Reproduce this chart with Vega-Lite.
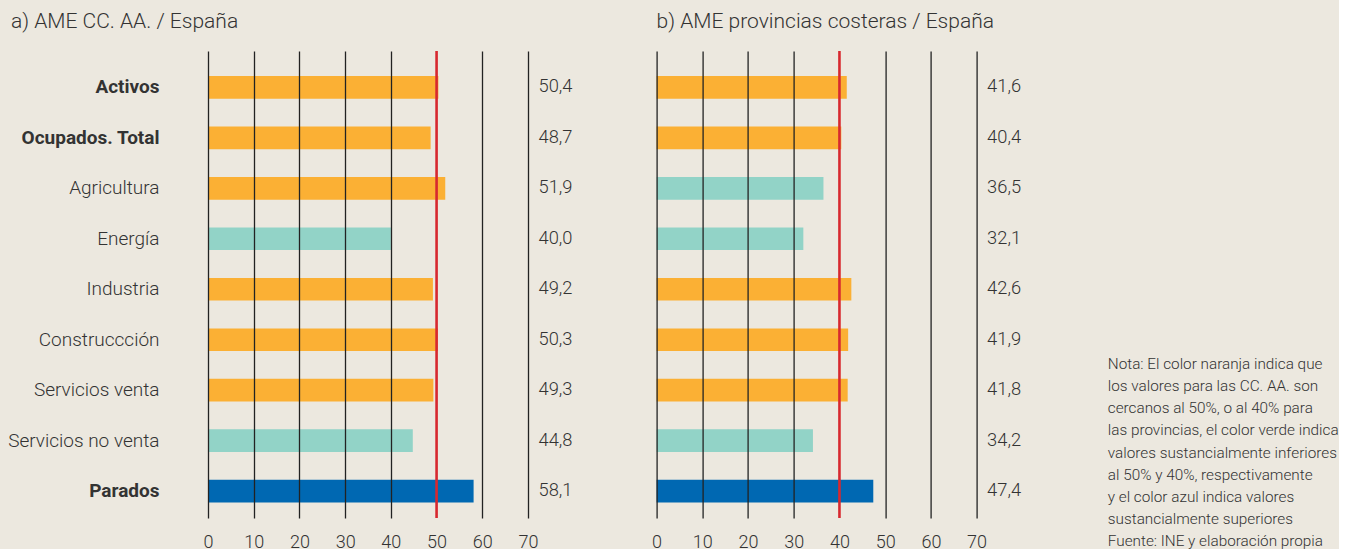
{
  "$schema": "https://vega.github.io/schema/vega-lite/v6.json",
  "background": "#ECE8DF",
  "padding": {"left": 7, "top": 10, "right": 0, "bottom": 0},
  "bounds": "flush",
  "spacing": 128.6,
  "config": {
    "locale": {"number": {"decimal": ",", "thousands": ".", "grouping": [3], "currency": ["", " €"]}},
    "view": {"stroke": null},
    "font": "Roboto",
    "title": {"font": "Roboto", "fontSize": 21, "fontWeight": 300, "color": "#333333", "anchor": "start", "frame": "group", "baseline": "alphabetic", "offset": 18}
  },
  "datasets": {
    "ccaa": [
      {"categoria": "Activos", "valor": 50.4, "nivel": "cercano"},
      {"categoria": "Ocupados. Total", "valor": 48.7, "nivel": "cercano"},
      {"categoria": "Agricultura", "valor": 51.9, "nivel": "cercano"},
      {"categoria": "Energía", "valor": 40.0, "nivel": "inferior"},
      {"categoria": "Industria", "valor": 49.2, "nivel": "cercano"},
      {"categoria": "Construccción", "valor": 50.3, "nivel": "cercano"},
      {"categoria": "Servicios venta", "valor": 49.3, "nivel": "cercano"},
      {"categoria": "Servicios no venta", "valor": 44.8, "nivel": "inferior"},
      {"categoria": "Parados", "valor": 58.1, "nivel": "superior"}
    ],
    "provincias": [
      {"categoria": "Activos", "valor": 41.6, "nivel": "cercano"},
      {"categoria": "Ocupados. Total", "valor": 40.4, "nivel": "cercano"},
      {"categoria": "Agricultura", "valor": 36.5, "nivel": "inferior"},
      {"categoria": "Energía", "valor": 32.1, "nivel": "inferior"},
      {"categoria": "Industria", "valor": 42.6, "nivel": "cercano"},
      {"categoria": "Construccción", "valor": 41.9, "nivel": "cercano"},
      {"categoria": "Servicios venta", "valor": 41.8, "nivel": "cercano"},
      {"categoria": "Servicios no venta", "valor": 34.2, "nivel": "inferior"},
      {"categoria": "Parados", "valor": 47.4, "nivel": "superior"}
    ],
    "nota": [
      {"linea": 1, "texto": "Nota: El color naranja indica que"},
      {"linea": 2, "texto": "los valores para las CC. AA. son"},
      {"linea": 3, "texto": "cercanos al 50%, o al 40% para"},
      {"linea": 4, "texto": "las provincias, el color verde indica"},
      {"linea": 5, "texto": "valores sustancialmente inferiores"},
      {"linea": 6, "texto": "al 50% y 40%, respectivamente"},
      {"linea": 7, "texto": "y el color azul indica valores"},
      {"linea": 8, "texto": "sustancialmente superiores"},
      {"linea": 9, "texto": "Fuente: INE y elaboración propia"}
    ]
  },
  "hconcat": [
    {
      "width": 320,
      "height": 467,
      "title": {"text": "a) AME CC. AA. / España", "dx": -197},
      "layer": [
        {
          "data": {"name": "ccaa"},
          "mark": {"type": "bar"},
          "encoding": {
            "y": {"field": "categoria", "type": "nominal", "sort": null,
              "scale": {"paddingInner": 0.551, "paddingOuter": 0.402, "align": 0.617},
              "axis": {"title": null, "domain": false, "ticks": false, "grid": false, "labelPadding": 49, "labelFontSize": 19, "labelColor": "#333333", "labelFont": "Roboto", "labelLimit": 400,
                "labelFontWeight": {"condition": {"test": "indexof(['Activos','Ocupados. Total','Parados'], datum.value) >= 0", "value": "bold"}, "value": 300}}},
            "x": {"field": "valor", "type": "quantitative", "scale": {"domain": [0, 70], "nice": false, "zero": true},
              "axis": {"title": null, "domain": false, "ticks": false, "values": [0, 10, 20, 30, 40, 50, 60, 70], "grid": true, "gridColor": "#222222", "gridWidth": 1.3,
                "gridOpacity": {"condition": {"test": "datum.value === 50", "value": 0}, "value": 1},
                "labelFlush": false, "labelOverlap": false,
                "labelPadding": 15, "labelFontSize": 18, "labelColor": "#333333", "labelFont": "Roboto", "labelFontWeight": 300, "zindex": 1}},
            "color": {"field": "nivel", "type": "nominal", "scale": {"domain": ["cercano", "inferior", "superior"], "range": ["#FBB034", "#92D3C7", "#0068B2"]}, "legend": null}
          }
        },
        {
          "data": {"name": "ccaa"},
          "mark": {"type": "text", "align": "left", "baseline": "middle", "fontSize": 18.3, "font": "Roboto", "fontWeight": 300, "color": "#333333"},
          "encoding": {
            "y": {"field": "categoria", "type": "nominal", "sort": null},
            "x": {"datum": 72.3},
            "text": {"field": "valor", "type": "quantitative", "format": ".1f"}
          }
        },
        {
          "data": {"values": [{"referencia": 50}]},
          "mark": {"type": "rule", "color": "#D7282F", "strokeWidth": 2.6},
          "encoding": {"x": {"field": "referencia", "type": "quantitative"}}
        }
      ]
    },
    {
      "width": 320,
      "height": 467,
      "title": {"text": "b) AME provincias costeras / España"},
      "resolve": {"scale": {"y": "independent"}},
      "layer": [
        {
          "layer": [
            {
              "data": {"name": "provincias"},
              "mark": {"type": "bar"},
              "encoding": {
                "y": {"field": "categoria", "type": "nominal", "sort": null,
                  "scale": {"paddingInner": 0.551, "paddingOuter": 0.402, "align": 0.617}, "axis": null},
                "x": {"field": "valor", "type": "quantitative", "scale": {"domain": [0, 70], "nice": false, "zero": true},
                  "axis": {"title": null, "domain": false, "ticks": false, "values": [0, 10, 20, 30, 40, 50, 60, 70], "grid": true, "gridColor": "#222222", "gridWidth": 1.3,
                    "gridOpacity": {"condition": {"test": "datum.value === 40", "value": 0}, "value": 1},
                    "labelFlush": false, "labelOverlap": false,
                    "labelPadding": 15, "labelFontSize": 18, "labelColor": "#333333", "labelFont": "Roboto", "labelFontWeight": 300, "zindex": 1}},
                "color": {"field": "nivel", "type": "nominal", "scale": {"domain": ["cercano", "inferior", "superior"], "range": ["#FBB034", "#92D3C7", "#0068B2"]}, "legend": null}
              }
            },
            {
              "data": {"name": "provincias"},
              "mark": {"type": "text", "align": "left", "baseline": "middle", "fontSize": 18.3, "font": "Roboto", "fontWeight": 300, "color": "#333333"},
              "encoding": {
                "y": {"field": "categoria", "type": "nominal", "sort": null},
                "x": {"datum": 72.3},
                "text": {"field": "valor", "type": "quantitative", "format": ".1f"}
              }
            },
            {
              "data": {"values": [{"referencia": 40}]},
              "mark": {"type": "rule", "color": "#D7282F", "strokeWidth": 2.6},
              "encoding": {"x": {"field": "referencia", "type": "quantitative"}}
            }
          ]
        },
        {
          "data": {"name": "nota"},
          "mark": {"type": "text", "align": "left", "baseline": "alphabetic", "fontSize": 15.3, "font": "Roboto", "fontWeight": 300, "color": "#333333"},
          "encoding": {
            "x": {"datum": 98.7},
            "y": {"field": "linea", "type": "quantitative", "scale": {"domain": [-13.311, 7.725], "reverse": true, "nice": false, "zero": false}, "axis": null},
            "text": {"field": "texto"}
          }
        }
      ]
    }
  ]
}
